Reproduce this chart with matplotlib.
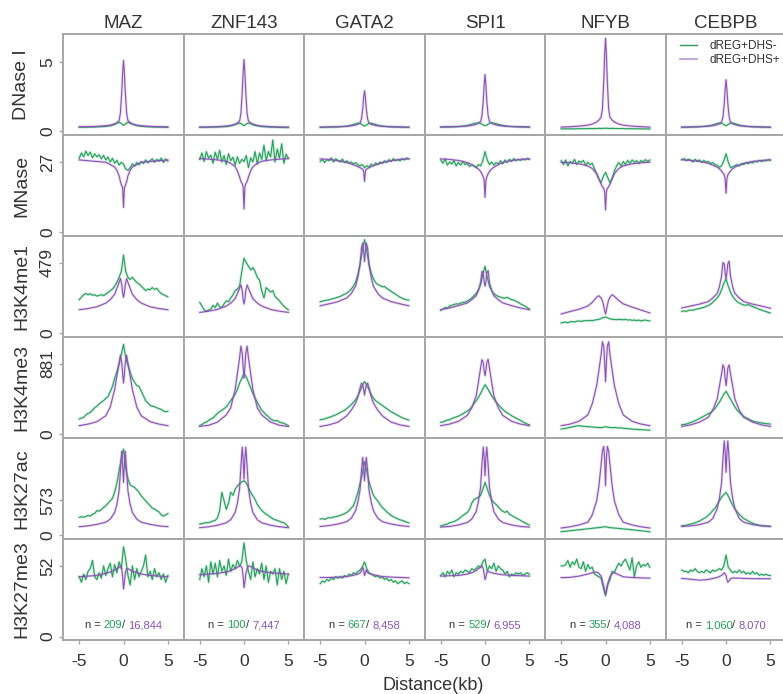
import matplotlib.pyplot as plt
from matplotlib.lines import Line2D
from matplotlib.offsetbox import TextArea, HPacker, AnchoredOffsetbox

plt.rcParams['font.family'] = ['Liberation Sans', 'DejaVu Sans']
plt.rcParams['axes.unicode_minus'] = False

factors = ['MAZ', 'ZNF143', 'GATA2', 'SPI1', 'NFYB', 'CEBPB']
marks = ['DNase I', 'MNase', 'H3K4me1', 'H3K4me3', 'H3K27ac', 'H3K27me3']
y_ticks = [5, 27, 479, 881, 573, 52]
y_lims = [(-0.29, 7.0), (-1.5, 37.4), (-25, 660), (-50, 1220), (-65, 1588), (-2.5, 71.8)]
n_neg = ['209', '100', '667', '529', '355', '1,060']
n_pos = ['16,844', '7,447', '8,458', '6,955', '4,088', '8,070']

# distance from site (kb); dREG+DHS- profiles are sampled every 0.25 kb,
# dREG+DHS+ profiles are smooth, sampled denser near the centre
x_neg = [-5, -4.75, -4.5, -4.25, -4, -3.75, -3.5, -3.25, -3, -2.75, -2.5, -2.25, -2, -1.75, -1.5, -1.25,
         -1, -0.75, -0.5, -0.25, 0, 0.25, 0.5, 0.75, 1,
         1.25, 1.5, 1.75, 2, 2.25, 2.5, 2.75, 3, 3.25, 3.5, 3.75, 4, 4.25, 4.5, 4.75, 5]
x_pos = [-5, -4, -3, -2, -1.5, -1, -0.75, -0.5, -0.35, -0.2, -0.1, 0,
         0.1, 0.2, 0.35, 0.5, 0.75, 1, 1.5, 2, 3, 4, 5]

# ---- DNase I
dnase_neg = [
    [0.27, 0.27, 0.28, 0.27, 0.28, 0.29, 0.28, 0.29, 0.30, 0.30, 0.31, 0.32, 0.33, 0.35, 0.38, 0.42,
     0.47, 0.55, 0.63, 0.55, 0.40, 0.53, 0.63, 0.56, 0.48,
     0.43, 0.39, 0.36, 0.34, 0.33, 0.31, 0.30, 0.30, 0.29, 0.28, 0.28, 0.27, 0.28, 0.27, 0.26, 0.26],
    [0.26, 0.27, 0.26, 0.27, 0.27, 0.28, 0.28, 0.28, 0.29, 0.29, 0.30, 0.31, 0.32, 0.34, 0.37, 0.41,
     0.46, 0.52, 0.58, 0.50, 0.38, 0.50, 0.58, 0.52, 0.45,
     0.40, 0.37, 0.34, 0.32, 0.31, 0.30, 0.29, 0.28, 0.28, 0.27, 0.27, 0.26, 0.26, 0.25, 0.25, 0.25],
    [0.26, 0.26, 0.27, 0.27, 0.28, 0.28, 0.29, 0.29, 0.30, 0.31, 0.32, 0.33, 0.35, 0.38, 0.42, 0.47,
     0.52, 0.57, 0.55, 0.45, 0.35, 0.45, 0.55, 0.57, 0.52,
     0.47, 0.42, 0.38, 0.35, 0.33, 0.32, 0.31, 0.30, 0.29, 0.29, 0.28, 0.28, 0.27, 0.27, 0.26, 0.26],
    [0.27, 0.27, 0.28, 0.28, 0.29, 0.29, 0.30, 0.31, 0.32, 0.33, 0.35, 0.37, 0.40, 0.44, 0.49, 0.54,
     0.58, 0.60, 0.55, 0.45, 0.38, 0.45, 0.55, 0.60, 0.57,
     0.53, 0.48, 0.44, 0.40, 0.37, 0.35, 0.33, 0.32, 0.31, 0.30, 0.29, 0.29, 0.28, 0.28, 0.27, 0.27],
    [0.15, 0.15, 0.16, 0.15, 0.16, 0.16, 0.15, 0.16, 0.16, 0.17, 0.16, 0.17, 0.17, 0.18, 0.17, 0.18,
     0.18, 0.19, 0.18, 0.19, 0.20, 0.19, 0.18, 0.19, 0.18,
     0.18, 0.17, 0.18, 0.17, 0.17, 0.16, 0.17, 0.16, 0.16, 0.16, 0.15, 0.16, 0.15, 0.15, 0.15, 0.14],
    [0.27, 0.27, 0.28, 0.28, 0.28, 0.29, 0.29, 0.30, 0.31, 0.32, 0.33, 0.35, 0.37, 0.40, 0.44, 0.49,
     0.54, 0.58, 0.56, 0.47, 0.38, 0.47, 0.56, 0.58, 0.53,
     0.48, 0.43, 0.39, 0.36, 0.34, 0.32, 0.31, 0.30, 0.29, 0.29, 0.28, 0.28, 0.27, 0.27, 0.27, 0.26],
]
dnase_pos = [
    [0.30, 0.31, 0.33, 0.38, 0.42, 0.52, 0.60, 0.75, 1.30, 2.80, 4.20, 5.10, 4.20, 2.80, 1.30, 0.75, 0.60, 0.52, 0.42, 0.38, 0.33, 0.31, 0.30],
    [0.28, 0.29, 0.31, 0.36, 0.40, 0.50, 0.58, 0.72, 1.25, 2.80, 4.20, 5.15, 4.20, 2.80, 1.25, 0.72, 0.58, 0.50, 0.40, 0.36, 0.31, 0.29, 0.28],
    [0.28, 0.29, 0.30, 0.34, 0.37, 0.43, 0.48, 0.58, 0.85, 1.60, 2.40, 2.90, 2.40, 1.60, 0.85, 0.58, 0.48, 0.43, 0.37, 0.34, 0.30, 0.29, 0.28],
    [0.30, 0.31, 0.32, 0.36, 0.40, 0.48, 0.55, 0.68, 1.10, 2.20, 3.30, 4.07, 3.30, 2.20, 1.10, 0.68, 0.55, 0.48, 0.40, 0.36, 0.32, 0.31, 0.30],
    [0.28, 0.31, 0.35, 0.42, 0.50, 0.65, 0.78, 1.00, 1.60, 3.60, 5.50, 6.70, 5.50, 3.60, 1.60, 1.00, 0.78, 0.65, 0.50, 0.42, 0.35, 0.31, 0.28],
    [0.28, 0.29, 0.31, 0.35, 0.38, 0.45, 0.52, 0.64, 1.00, 2.00, 3.00, 3.70, 3.00, 2.00, 1.00, 0.64, 0.52, 0.45, 0.38, 0.35, 0.31, 0.29, 0.28],
]

# ---- MNase
mnase_neg = [
    [28.5, 30.5, 29.0, 31.2, 29.5, 30.8, 28.6, 30.2, 29.0, 29.8, 28.2, 29.6, 27.8, 28.9, 27.0, 28.4,
     26.5, 27.6, 25.8, 26.9, 26.2, 24.3, 23.8, 24.8, 26.3,
     25.5, 26.8, 25.9, 27.2, 26.4, 27.8, 26.7, 27.5, 28.2, 26.9, 28.0, 27.3, 28.5, 26.8, 28.1, 27.4],
    [28.0, 30.5, 27.2, 31.0, 28.5, 29.6, 26.5, 30.8, 28.0, 31.5, 27.0, 29.5, 26.0, 30.2, 27.5, 28.8,
     25.8, 29.0, 26.5, 28.0, 27.2, 29.5, 24.8, 28.6, 27.0,
     31.0, 26.2, 30.5, 28.0, 33.5, 27.5, 31.0, 29.0, 35.5, 27.0, 32.0, 28.5, 34.0, 26.5, 30.0, 28.5],
    [27.2, 28.0, 26.8, 27.9, 27.5, 28.6, 27.0, 28.2, 27.6, 27.0, 28.1, 26.8, 27.5, 26.5, 27.0, 26.2,
     26.8, 25.9, 25.5, 26.0, 24.8, 25.6, 25.0, 26.2, 25.5,
     26.6, 26.0, 27.0, 26.4, 27.5, 26.8, 27.9, 27.2, 28.3, 27.5, 28.0, 27.4, 28.4, 27.8, 28.6, 28.2],
    [27.8, 26.5, 28.2, 25.8, 27.0, 26.2, 27.5, 25.5, 26.8, 25.8, 27.2, 26.0, 26.5, 25.2, 26.0, 25.4,
     24.8, 26.0, 25.5, 27.5, 31.0, 27.8, 26.0, 27.0, 25.8,
     26.8, 26.2, 27.5, 26.3, 27.8, 26.8, 28.0, 27.2, 28.3, 27.5, 28.0, 27.6, 28.2, 27.8, 28.4, 28.0],
    [27.5, 26.0, 27.8, 25.5, 27.2, 26.5, 28.0, 26.0, 27.4, 26.8, 27.6, 25.8, 26.9, 26.0, 26.5, 24.5,
     22.5, 20.5, 19.0, 21.5, 23.0, 21.0, 19.0, 20.8, 23.5,
     25.5, 26.8, 25.4, 27.2, 26.0, 27.6, 26.5, 27.8, 26.9, 27.5, 26.4, 27.6, 27.0, 27.9, 27.2, 27.8],
    [27.9, 28.3, 27.5, 28.1, 27.8, 27.0, 28.0, 27.4, 27.8, 26.9, 27.6, 27.0, 27.2, 26.4, 26.8, 26.0,
     25.8, 25.0, 25.5, 27.5, 30.2, 27.0, 24.8, 25.2, 25.6,
     26.0, 25.5, 26.4, 26.0, 26.8, 26.3, 27.0, 26.6, 27.3, 27.0, 27.6, 27.2, 27.5, 27.4, 27.8, 27.6],
]
mnase_pos = [
    [27.8, 27.5, 27.2, 26.9, 26.0, 25.1, 23.8, 21.7, 19.5, 17.8, 17.2, 9.5, 17.2, 17.8, 19.5, 21.7, 23.8, 25.1, 26.0, 26.9, 27.2, 27.5, 27.8],
    [28.3, 28.1, 27.8, 27.3, 26.5, 25.2, 23.6, 21.2, 19.5, 18.6, 17.5, 8.9, 17.5, 18.6, 19.5, 21.2, 23.6, 25.2, 26.5, 27.3, 27.8, 28.1, 28.3],
    [28.2, 28.0, 27.5, 26.8, 26.2, 25.6, 25.2, 24.8, 24.5, 24.2, 23.5, 19.5, 23.5, 24.2, 24.5, 24.8, 25.2, 25.6, 26.2, 26.8, 27.5, 28.0, 28.2],
    [28.2, 28.0, 27.6, 26.8, 26.0, 25.0, 24.3, 23.4, 22.5, 21.2, 20.0, 13.4, 20.0, 21.2, 22.5, 23.4, 24.3, 25.0, 26.0, 26.8, 27.6, 28.0, 28.2],
    [26.9, 26.7, 26.3, 25.5, 24.5, 22.5, 20.5, 18.5, 17.5, 16.8, 15.5, 8.6, 15.5, 16.8, 17.5, 18.5, 20.5, 22.5, 24.5, 25.5, 26.3, 26.7, 26.9],
    [27.9, 27.6, 27.2, 26.5, 25.8, 25.0, 24.4, 23.5, 22.8, 22.0, 20.5, 15.0, 20.5, 22.0, 22.8, 23.5, 24.4, 25.0, 25.8, 26.5, 27.2, 27.6, 27.9],
]

# ---- H3K4me1
k4me1_neg = [
    [228, 245, 262, 270, 262, 268, 258, 262, 252, 258, 262, 255, 268, 275, 290, 300,
     320, 345, 380, 420, 531, 420, 380, 365, 380,
     360, 345, 335, 320, 305, 290, 300, 295, 310, 298, 305, 285, 270, 262, 255, 248],
    [210, 185, 160, 150, 158, 165, 190, 175, 205, 180, 175, 200, 220, 215, 240, 260,
     290, 300, 320, 420, 509, 480, 455, 430, 445,
     420, 380, 360, 290, 240, 310, 295, 280, 290, 250, 235, 220, 200, 185, 170, 160],
    [214, 218, 222, 225, 228, 232, 236, 240, 245, 250, 258, 265, 272, 285, 300, 320,
     350, 400, 470, 560, 635, 560, 470, 410, 370,
     345, 330, 325, 315, 318, 305, 295, 285, 275, 265, 255, 245, 238, 232, 228, 225],
    [155, 165, 175, 172, 185, 190, 195, 200, 198, 205, 210, 212, 218, 228, 240, 255,
     270, 295, 330, 400, 455, 380, 320, 290, 270,
     258, 250, 245, 240, 238, 244, 236, 228, 225, 218, 210, 200, 192, 185, 175, 165],
    [70, 74, 76, 72, 78, 80, 77, 82, 84, 80, 86, 85, 86, 88, 85, 90,
     92, 95, 100, 108, 110, 105, 98, 95, 94,
     92, 95, 93, 92, 95, 90, 92, 88, 90, 86, 90, 84, 88, 90, 86, 85],
    [149, 152, 148, 155, 158, 156, 162, 165, 168, 172, 176, 182, 188, 198, 210, 225,
     240, 260, 295, 340, 368, 320, 280, 250, 230,
     215, 205, 198, 192, 190, 195, 188, 182, 175, 170, 162, 158, 152, 148, 142, 138],
]
k4me1_pos = [
    [160, 168, 180, 205, 228, 265, 305, 345, 372, 330, 275, 244, 275, 330, 372, 345, 305, 265, 228, 205, 180, 168, 160],
    [142, 150, 162, 185, 205, 235, 270, 305, 328, 290, 230, 199, 230, 290, 328, 305, 270, 235, 205, 185, 162, 150, 142],
    [187, 200, 215, 240, 270, 320, 380, 470, 580, 612, 560, 486, 560, 612, 580, 470, 380, 320, 270, 240, 215, 200, 187],
    [160, 172, 188, 206, 228, 255, 290, 345, 420, 410, 350, 319, 350, 410, 425, 345, 290, 255, 228, 206, 188, 172, 160],
    [131, 148, 163, 185, 210, 245, 255, 240, 220, 185, 155, 131, 158, 190, 225, 245, 262, 250, 222, 200, 178, 158, 138],
    [172, 185, 198, 215, 240, 270, 315, 390, 480, 470, 410, 368, 410, 470, 490, 390, 315, 270, 240, 215, 198, 185, 170],
]

# ---- H3K4me3
k4me3_neg = [
    [189, 200, 210, 240, 260, 272, 300, 330, 350, 380, 400, 420, 450, 470, 530, 600,
     700, 780, 880, 1000, 1128, 960, 870, 780, 700,
     650, 610, 600, 540, 480, 420, 390, 360, 350, 345, 330, 320, 310, 290, 280, 285],
    [105, 120, 140, 150, 170, 190, 200, 230, 260, 280, 300, 320, 340, 380, 420, 460,
     500, 560, 640, 700, 760, 720, 650, 580, 510,
     450, 400, 350, 300, 270, 240, 220, 190, 175, 165, 170, 150, 140, 135, 120, 105],
    [180, 185, 190, 200, 210, 218, 230, 240, 255, 270, 285, 300, 320, 345, 370, 400,
     430, 480, 540, 610, 660, 620, 560, 500, 450,
     420, 400, 380, 360, 340, 320, 300, 280, 265, 250, 235, 220, 205, 195, 185, 175],
    [147, 150, 165, 175, 180, 195, 205, 215, 225, 240, 255, 270, 290, 310, 340, 380,
     420, 460, 510, 570, 620, 580, 530, 480, 440,
     400, 370, 340, 310, 285, 265, 250, 230, 215, 200, 185, 170, 155, 140, 125, 115],
    [63, 66, 72, 78, 84, 90, 96, 102, 105, 100, 98, 95, 92, 90, 88, 86,
     84, 82, 80, 84, 92, 86, 82, 80, 82,
     78, 76, 78, 72, 70, 68, 65, 62, 60, 58, 56, 55, 53, 52, 50, 48],
    [118, 120, 125, 135, 145, 155, 168, 180, 195, 210, 225, 240, 255, 270, 295, 320,
     360, 400, 450, 500, 537, 490, 440, 390, 340,
     300, 270, 245, 220, 205, 190, 175, 165, 155, 150, 145, 140, 135, 130, 128, 125],
]
k4me3_pos = [
    [105, 125, 155, 230, 340, 560, 730, 890, 990, 900, 760, 642, 760, 900, 990, 890, 730, 560, 340, 230, 155, 125, 105],
    [95, 110, 150, 240, 330, 560, 760, 960, 1105, 1020, 850, 700, 850, 1020, 1105, 960, 760, 560, 330, 240, 150, 110, 95],
    [95, 115, 150, 230, 300, 390, 470, 580, 640, 620, 560, 490, 560, 620, 640, 580, 470, 390, 300, 230, 150, 115, 95],
    [105, 125, 160, 235, 330, 480, 650, 830, 935, 900, 800, 734, 800, 900, 940, 830, 650, 480, 330, 235, 160, 125, 105],
    [105, 125, 160, 240, 380, 610, 800, 1000, 1160, 1100, 900, 658, 900, 1100, 1160, 1000, 800, 610, 380, 240, 160, 125, 105],
    [95, 115, 150, 210, 300, 440, 600, 760, 870, 830, 700, 608, 700, 830, 870, 760, 600, 440, 300, 210, 150, 115, 95],
]

# ---- H3K27ac
k27ac_neg = [
    [289, 300, 290, 305, 320, 310, 340, 355, 400, 390, 420, 450, 480, 520, 560, 600,
     700, 850, 1050, 1250, 1408, 1100, 920, 820, 800,
     780, 740, 700, 640, 600, 560, 520, 480, 440, 425, 400, 380, 330, 310, 330, 350],
    [180, 185, 195, 205, 200, 215, 230, 240, 280, 400, 700, 560, 420, 520, 700, 650,
     750, 800, 840, 870, 889, 850, 780, 700, 640,
     580, 500, 450, 400, 370, 340, 320, 290, 265, 250, 240, 225, 210, 200, 175, 130],
    [262, 270, 255, 275, 285, 280, 295, 300, 310, 320, 335, 350, 370, 400, 440, 480,
     580, 700, 850, 1000, 1200, 1050, 880, 760, 650,
     600, 560, 500, 450, 420, 380, 350, 320, 300, 280, 265, 250, 240, 225, 210, 200],
    [150, 160, 170, 180, 200, 210, 220, 240, 260, 290, 320, 345, 370, 420, 520, 580,
     600, 620, 650, 750, 862, 760, 650, 580, 530,
     500, 460, 420, 390, 370, 390, 340, 320, 300, 280, 260, 240, 220, 200, 180, 165],
    [55, 58, 62, 66, 70, 74, 78, 82, 86, 90, 94, 98, 102, 106, 110, 115,
     118, 122, 126, 132, 136, 128, 120, 118, 114,
     112, 108, 104, 100, 97, 94, 90, 86, 82, 78, 74, 70, 66, 62, 58, 52],
    [150, 155, 160, 170, 180, 190, 200, 215, 230, 250, 270, 290, 320, 360, 400, 440,
     500, 560, 620, 660, 698, 640, 560, 490, 430,
     380, 340, 300, 270, 250, 230, 210, 195, 180, 170, 160, 155, 150, 148, 146, 145],
]
k27ac_pos = [
    [136, 150, 175, 210, 260, 370, 500, 720, 1050, 1370, 1150, 862, 1150, 1370, 1050, 720, 500, 370, 260, 210, 175, 150, 136],
    [120, 135, 160, 200, 250, 370, 520, 760, 1120, 1440, 1250, 917, 1250, 1440, 1120, 760, 520, 370, 250, 200, 160, 135, 120],
    [140, 155, 180, 220, 275, 400, 540, 740, 1050, 1270, 1100, 889, 1100, 1270, 1050, 740, 540, 400, 275, 220, 180, 155, 140],
    [130, 140, 165, 205, 260, 385, 545, 785, 1150, 1440, 1280, 971, 1280, 1440, 1150, 785, 545, 385, 260, 205, 165, 140, 130],
    [115, 135, 165, 210, 330, 560, 800, 1150, 1380, 1450, 1250, 808, 1250, 1450, 1380, 1150, 800, 560, 330, 210, 165, 135, 115],
    [140, 150, 170, 210, 270, 430, 600, 860, 1250, 1540, 1350, 1026, 1350, 1540, 1250, 860, 600, 430, 270, 210, 170, 150, 140],
]

# ---- H3K27me3
k27me3_neg = [
    [44, 40, 46, 42, 48, 50, 56, 44, 42, 47, 43, 52, 45, 50, 54, 44,
     53, 47, 55, 50, 66, 57, 45, 38, 52,
     42, 50, 44, 48, 52, 60, 44, 48, 42, 50, 44, 47, 42, 46, 40, 45],
    [42, 50, 44, 52, 40, 55, 46, 54, 44, 56, 48, 52, 45, 57, 48, 53,
     50, 56, 52, 55, 69, 56, 48, 42, 55,
     44, 50, 46, 54, 42, 52, 40, 48, 46, 50, 38, 50, 42, 48, 39, 46],
    [39, 41, 40, 42, 41, 43, 42, 44, 43, 44, 43, 45, 44, 46, 45, 47,
     46, 48, 49, 51, 55, 50, 47, 46, 45,
     44, 45, 43, 44, 42, 43, 41, 42, 40, 41, 39, 40, 41, 39, 40, 39],
    [45, 47, 44, 48, 46, 49, 44, 47, 46, 48, 47, 49, 48, 47, 50, 49,
     50, 52, 51, 55, 57, 48, 52, 50, 54,
     48, 52, 50, 49, 46, 48, 44, 46, 45, 47, 46, 47, 45, 46, 47, 46],
    [52, 52, 53, 56, 51, 55, 53, 57, 51, 50, 55, 48, 53, 50, 51, 46,
     45, 44, 43, 36, 30, 38, 42, 48, 47,
     51, 54, 52, 55, 57, 53, 49, 58, 44, 52, 55, 51, 53, 52, 54, 51],
    [49, 48, 48, 47, 49, 48, 50, 48, 47, 48, 47, 49, 48, 47, 49, 48,
     49, 50, 49, 52, 60, 51, 49, 47, 48,
     47, 49, 47, 48, 46, 47, 46, 48, 46, 47, 45, 46, 45, 46, 45, 45],
]
k27me3_pos = [
    [44, 44.5, 45, 46.5, 47.5, 49, 50, 51, 52, 50, 44, 35, 40, 47, 50, 50, 49, 48, 47, 46, 45, 44.5, 44],
    [45.5, 46, 46.5, 47.5, 48.5, 50, 51, 52, 52, 50, 44, 36, 40, 46, 50, 52, 51.5, 50.5, 49, 48, 47, 46.5, 46],
    [43.5, 43.5, 43.8, 44.2, 44.8, 45.5, 46, 47, 48, 51, 49, 45, 47, 49, 47, 46.5, 46, 45.5, 44.8, 44.2, 43.8, 43.5, 43.3],
    [44.5, 44.8, 45, 46, 47, 48.5, 50, 51, 52, 50, 46, 42, 44, 47, 48, 47.5, 47, 46.5, 46, 45.5, 45, 44.8, 44.5],
    [43.4, 43.6, 44.5, 46, 47, 47.5, 46.5, 44.5, 41, 37, 34, 31, 34, 38, 41, 44, 46.5, 47, 45.5, 44, 43.5, 43.2, 43],
    [42.8, 42.2, 41.5, 42, 42.8, 43.5, 44.2, 45, 46, 47, 46, 45, 42, 40, 41, 42.5, 43.2, 43, 43, 42.8, 42.6, 42.6, 42.6],
]

GREEN = '#23a05a'
PURPLE = '#8a52b5'
FRAME = '#a6a6a6'
TEXT = '#333333'

rows = [(dnase_neg, dnase_pos), (mnase_neg, mnase_pos), (k4me1_neg, k4me1_pos),
        (k4me3_neg, k4me3_pos), (k27ac_neg, k27ac_pos), (k27me3_neg, k27me3_pos)]

fig, axes = plt.subplots(6, 6, figsize=(7.83, 6.94), dpi=100)
fig.subplots_adjust(left=0.0808, right=1.0042, top=0.951, bottom=0.0778, wspace=0, hspace=0)

for r, (neg, pos) in enumerate(rows):
    for c in range(6):
        ax = axes[r, c]
        # faint band behind each profile, then the line itself
        ax.plot(x_neg, neg[c], color=GREEN, lw=2.0, alpha=0.2)
        ax.plot(x_neg, neg[c], color=GREEN, lw=0.8)
        ax.plot(x_pos, pos[c], color=PURPLE, lw=2.0, alpha=0.2)
        ax.plot(x_pos, pos[c], color=PURPLE, lw=0.8)

        ax.set_xlim(-6.8, 6.8)
        ax.set_ylim(*y_lims[r])
        for s in ax.spines.values():
            s.set_color(FRAME)
            s.set_linewidth(1.4)
        ax.tick_params(colors=FRAME, labelcolor=TEXT, length=3, width=1.0)

        if c == 0:
            ax.set_yticks([0, y_ticks[r]])
            ax.set_yticklabels(['0', str(y_ticks[r])], rotation=90, va='center', fontsize=12.5)
            ax.tick_params(axis='y', pad=3)
            ax.text(-0.345, 0.5, marks[r], transform=ax.transAxes, rotation=90,
                    ha='center', va='center', fontsize=14, color=TEXT)
        else:
            ax.set_yticks([])

        if r == 5:
            ax.set_xticks([-5, 0, 5])
            ax.set_xticklabels(['-5', '0', '5'], fontsize=12.5)
            ax.tick_params(axis='x', pad=7)
            box = HPacker(children=[
                TextArea('n = ', textprops=dict(color=TEXT, fontsize=8)),
                TextArea(n_neg[c], textprops=dict(color=GREEN, fontsize=8)),
                TextArea('/ ', textprops=dict(color=TEXT, fontsize=8)),
                TextArea(n_pos[c], textprops=dict(color=PURPLE, fontsize=8)),
            ], align='baseline', pad=0, sep=0)
            ax.add_artist(AnchoredOffsetbox(loc='center', child=box, pad=0, borderpad=0, frameon=False,
                                            bbox_to_anchor=(0.5, 0.145), bbox_transform=ax.transAxes))
        else:
            ax.set_xticks([])

        if r == 0:
            ax.text(0.5, 1 + 6 / 101, factors[c], transform=ax.transAxes,
                    ha='center', va='baseline', fontsize=13.5, color=TEXT)

handles = [Line2D([], [], color='#3a9a5e', lw=1.0), Line2D([], [], color='#b993d6', lw=1.2)]
axes[0, 5].legend(handles, ['dREG+DHS-', 'dREG+DHS+'], loc='upper left',
                  bbox_to_anchor=(0.116, 0.94), frameon=False, fontsize=8.5,
                  handlelength=1.5, handletextpad=1.0, labelspacing=0.15,
                  borderpad=0, borderaxespad=0, labelcolor=TEXT)

fig.text(433 / 783, 1 - 686 / 694, 'Distance(kb)', ha='center', va='center', fontsize=13, color=TEXT)

fig.savefig('out.png', dpi=100)
